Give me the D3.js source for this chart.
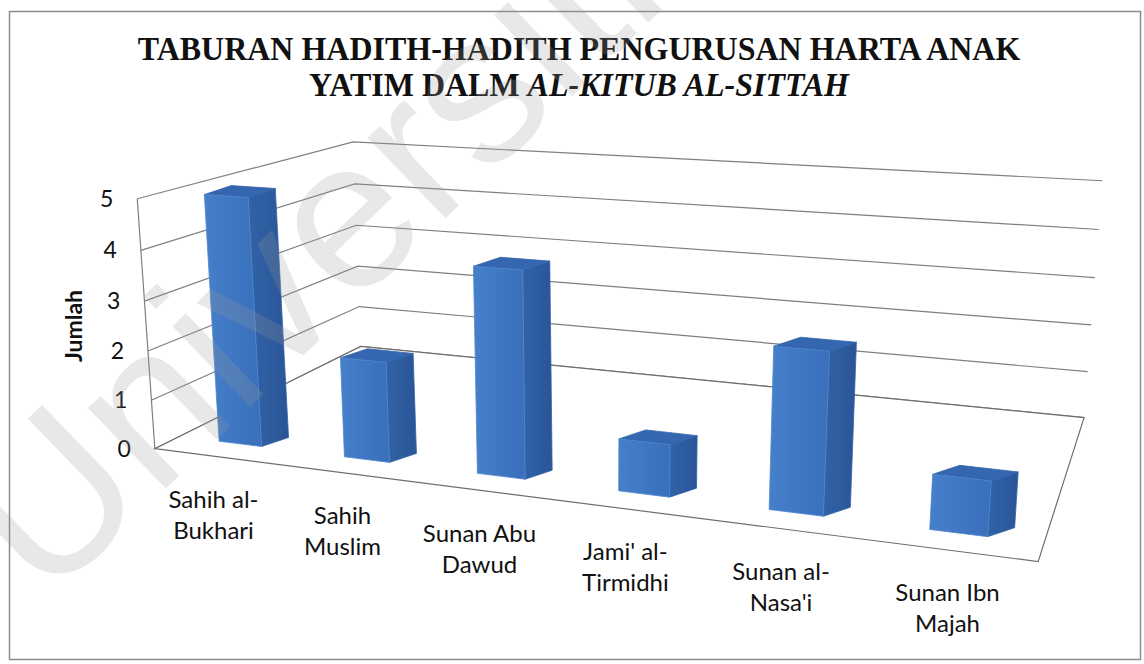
<!DOCTYPE html>
<html>
<head>
<meta charset="utf-8">
<script src="https://cdn.jsdelivr.net/npm/d3@7"></script>
<style>
  body { margin: 0; background: #fff; }
  svg { display: block; }
</style>
</head>
<body>
<svg id="chart" width="1144" height="664"></svg>
<script>
// data
var categories = ["Sahih al-Bukhari", "Sahih Muslim", "Sunan Abu Dawud", "Jami' al-Tirmidhi", "Sunan al-Nasa'i", "Sunan Ibn Majah"];
var labelLines = [["Sahih al-", "Bukhari"], ["Sahih", "Muslim"], ["Sunan Abu", "Dawud"], ["Jami' al-", "Tirmidhi"], ["Sunan al-", "Nasa'i"], ["Sunan Ibn", "Majah"]];
var values = [5, 2, 4, 1, 3, 1];
var yTicks = [0, 1, 2, 3, 4, 5];
var yTitle = "Jumlah";
var titleLine1 = "TABURAN HADITH-HADITH PENGURUSAN HARTA ANAK";
var titleLine2 = "YATIM DALM ";
var titleLine2i = "AL-KITUB AL-SITTAH";

// world box corners (x,y,z in 0..1) -> where they land on screen
var anchors = [
    [0, 0, 0, 154, 449], [0, 0.2, 0, 152, 398], [0, 0.4, 0, 149, 350], [0, 0.6, 0, 145, 302], [0, 0.8, 0, 142, 253], [0, 1, 0, 135, 197],
    [0, 0, 1, 360, 348], [0, 0.2, 1, 359, 307], [0, 0.4, 1, 358, 266], [0, 0.6, 1, 357, 225], [0, 0.8, 1, 355, 183], [0, 1, 1, 353, 142],
    [1, 0, 1, 1083, 417], [1, 0.2, 1, 1088, 371], [1, 0.4, 1, 1093, 324], [1, 0.6, 1, 1095, 277], [1, 0.8, 1, 1098, 230], [1, 1, 1, 1102, 182],
    [1, 0, 0, 1038, 563]
];

var W = 1144, H = 664;
var svg = d3.select("#chart");

// fit a perspective projection (DLT, least squares) to the anchors
var cu = 570, cv = 380, sc = 500;
function solve(M, r) {
    var n = r.length;
    for (var i = 0; i < n; i++) {
        var p = i;
        for (var k = i + 1; k < n; k++) if (Math.abs(M[k][i]) > Math.abs(M[p][i])) p = k;
        var t = M[i]; M[i] = M[p]; M[p] = t;
        var tr = r[i]; r[i] = r[p]; r[p] = tr;
        for (var k = i + 1; k < n; k++) {
            var f = M[k][i] / M[i][i];
            for (var j = i; j < n; j++) M[k][j] -= f * M[i][j];
            r[k] -= f * r[i];
        }
    }
    var x = new Array(n).fill(0);
    for (var i = n - 1; i >= 0; i--) {
        var s = r[i];
        for (var j = i + 1; j < n; j++) s -= M[i][j] * x[j];
        x[i] = s / M[i][i];
    }
    return x;
}
var rows = [], rhs = [];
anchors.forEach(function(a) {
    var X = a[0], Y = a[1], Z = a[2], u = (a[3] - cu) / sc, v = (a[4] - cv) / sc;
    rows.push([X, Y, Z, 1, 0, 0, 0, 0, -u * X, -u * Y, -u * Z]); rhs.push(u);
    rows.push([0, 0, 0, 0, X, Y, Z, 1, -v * X, -v * Y, -v * Z]); rhs.push(v);
});
var M = [], r = [];
for (var i = 0; i < 11; i++) {
    M.push([]);
    var s = 0;
    for (var j = 0; j < 11; j++) {
        var m = 0;
        rows.forEach(function(row) { m += row[i] * row[j]; });
        M[i].push(m);
    }
    rows.forEach(function(row, k) { s += row[i] * rhs[k]; });
    r.push(s);
}
var P = solve(M, r);
function proj(X, Y, Z) {
    var w = P[8] * X + P[9] * Y + P[10] * Z + 1;
    return [
        ((P[0] * X + P[1] * Y + P[2] * Z + P[3]) / w) * sc + cu,
        ((P[4] * X + P[5] * Y + P[6] * Z + P[7]) / w) * sc + cv
    ];
}

// scales
var x = d3.scaleBand().domain(categories).range([0, 1]).paddingInner(0.655).paddingOuter(0.3275);
var y = d3.scaleLinear().domain([0, 5]).range([0, 1]);
var zFront = 0.1;          // bars stand near the front of the floor
var depth = [27, -9];      // bar depth drawn as a fixed oblique offset (like excel)

var defs = svg.append("defs");
var gFront = defs.append("linearGradient").attr("id", "front").attr("x1", 0).attr("x2", 1).attr("y1", 0).attr("y2", 0);
gFront.append("stop").attr("offset", 0).attr("stop-color", "#4780ca");
gFront.append("stop").attr("offset", 0.5).attr("stop-color", "#3f77c2");
gFront.append("stop").attr("offset", 1).attr("stop-color", "#396fbb");
var gSide = defs.append("linearGradient").attr("id", "side").attr("x1", 0).attr("x2", 1).attr("y1", 0).attr("y2", 0);
gSide.append("stop").attr("offset", 0).attr("stop-color", "#3163a7");
gSide.append("stop").attr("offset", 1).attr("stop-color", "#2a5597");

svg.append("rect").attr("width", W).attr("height", H).attr("fill", "#fff");

// chart frame
svg.append("rect")
    .attr("x", 9.5).attr("y", 11.5)
    .attr("width", 1131).attr("height", 648)
    .attr("fill", "none").attr("stroke", "#8c8c8c").attr("stroke-width", 1.5);

// title
var title = svg.append("g").attr("font-family", "'Liberation Serif', 'Times New Roman', serif")
    .attr("font-weight", "bold").attr("font-size", 34).attr("fill", "#111");
var t1 = title.append("text").attr("text-anchor", "middle").attr("y", 0).text(titleLine1);
var t2 = title.append("text").attr("text-anchor", "middle").attr("y", 36);
t2.append("tspan").text(titleLine2);
t2.append("tspan").attr("font-style", "italic").text(titleLine2i);
var k = 883 / t1.node().getComputedTextLength();
title.attr("transform", "translate(579,60) scale(" + k + ",1)");

var line = d3.line().x(d => d[0]).y(d => d[1]);

// walls: gridlines on left wall and back wall
svg.append("g")
    .selectAll("path")
    .data(yTicks)
    .enter()
    .append("path")
    .attr("d", t => line([proj(0, y(t), 0), proj(0, y(t), 1), proj(1, y(t), 1)]))
    .attr("fill", "none")
    .attr("stroke", "#7f7f7f")
    .attr("stroke-width", 1.2);

// front edge of left wall
svg.append("path")
    .attr("d", line([proj(0, 0, 0), proj(0, 1, 0)]))
    .attr("stroke", "#7f7f7f").attr("stroke-width", 1.2);

// floor
svg.append("path")
    .attr("d", line([proj(0, 0, 0), proj(1, 0, 0), proj(1, 0, 1), proj(0, 0, 1)]) + "Z")
    .attr("fill", "#fff").attr("stroke", "#6f6f6f").attr("stroke-width", 1.2);

// y tick labels
svg.append("g")
    .selectAll("text")
    .data(yTicks)
    .enter()
    .append("text")
    .attr("x", t => proj(0, y(t), 0)[0] - 24)
    .attr("y", t => proj(0, y(t), 0)[1] + 8)
    .attr("text-anchor", "end")
    .attr("font-family", "Lato, 'Open Sans', sans-serif")
    .attr("font-size", 23)
    .attr("fill", "#111")
    .text(t => t);

svg.append("text")
    .attr("transform", "translate(82,326) rotate(-90)")
    .attr("text-anchor", "middle")
    .attr("font-family", "Lato, 'Open Sans', sans-serif")
    .attr("font-weight", "bold")
    .attr("font-size", 23)
    .attr("fill", "#111")
    .text(yTitle);

// bars: front face in perspective, depth as oblique offset
function off(p) { return [p[0] + depth[0], p[1] + depth[1]]; }
var bars = categories.map(function(c, i) {
    var xa = x(c), xb = x(c) + x.bandwidth();
    var bl = proj(xa, y(0), zFront), br = proj(xb, y(0), zFront);
    var tl = proj(xa, y(values[i]), zFront), tr = proj(xb, y(values[i]), zFront);
    return [
        { n: "side", pts: [br, tr, off(tr), off(br)], fill: "url(#side)" },
        { n: "top", pts: [tl, off(tl), off(tr), tr], fill: "#3467b0" },
        { n: "front", pts: [bl, tl, tr, br], fill: "url(#front)" }
    ];
});

var barG = svg.append("g").attr("id", "bars");
barG.selectAll("g")
    .data(bars)
    .enter()
    .append("g")
    .selectAll("path")
    .data(d => d)
    .enter()
    .append("path")
    .attr("d", f => line(f.pts) + "Z")
    .attr("fill", f => f.fill)
    .attr("stroke", f => f.n === "front" ? "#4f86cf" : "#3263a8")
    .attr("stroke-width", 0.8)
    .attr("stroke-linejoin", "round");

// category labels
var labs = svg.append("g")
    .attr("font-family", "Lato, 'Open Sans', sans-serif")
    .attr("font-size", 24)
    .attr("fill", "#111")
    .attr("text-anchor", "middle");
labs.selectAll("text")
    .data(categories)
    .enter()
    .append("text")
    .attr("transform", function(c) {
        var p = proj(x(c) + x.bandwidth() / 2, 0, 0);
        return "translate(" + (p[0] - 3) + "," + (p[1] + 51) + ")";
    })
    .selectAll("tspan")
    .data((c, i) => labelLines[i])
    .enter()
    .append("tspan")
    .attr("x", 0)
    .attr("dy", (d, j) => j ? 31 : 0)
    .text(d => d);

// faint repository watermark
svg.append("text")
    .attr("transform", "translate(45,605) rotate(-44)")
    .attr("font-family", "'Liberation Sans', Arial, sans-serif")
    .attr("font-size", 212)
    .attr("fill", "#9a9a9a")
    .attr("opacity", 0.22)
    .text("Universiti Malaya");
</script>
</body>
</html>
